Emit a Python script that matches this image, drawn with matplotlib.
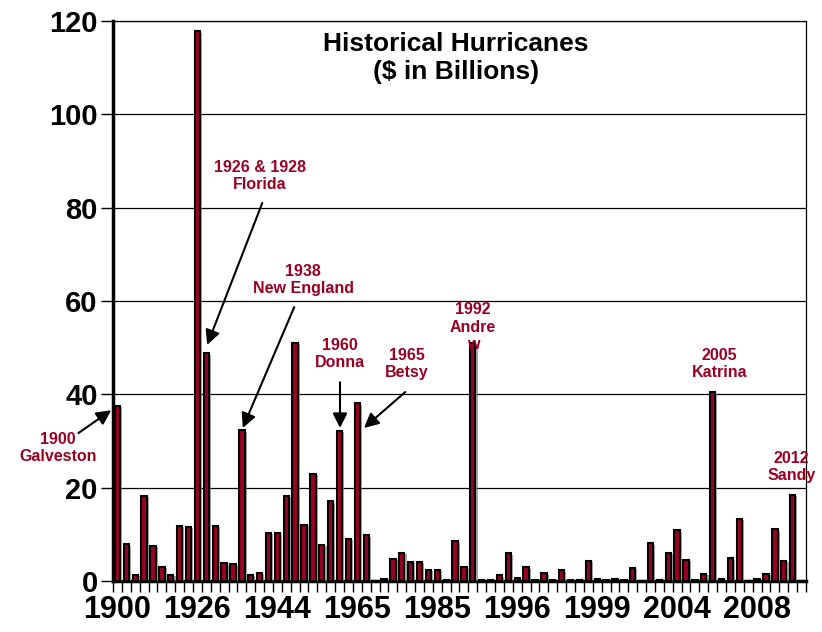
import numpy as np
from matplotlib import pyplot as plt
import matplotlib.patheffects as pe

plt.rcParams['font.family'] = ['Liberation Sans', 'DejaVu Sans']

# damage per hurricane, $ billions (one bar per storm, in order)
damage = [37.5, 7.9, 1.3, 18.3, 7.5, 3.1, 1.3, 11.8, 11.6, 117.8,
	48.8, 11.8, 3.8, 3.6, 32.3, 1.3, 1.7, 10.3, 10.3, 18.2,
	51.1, 12.0, 23.0, 7.8, 17.1, 32.2, 9.0, 38.1, 9.8, 0.0,
	0.5, 4.7, 6.1, 4.1, 4.1, 2.4, 2.4, 0.2, 8.6, 2.9,
	51.1, 0.2, 0.2, 1.2, 5.9, 0.7, 2.9, 0.2, 1.7, 0.2,
	2.3, 0.2, 0.2, 4.3, 0.4, 0.2, 0.4, 0.2, 2.8, 0.0,
	8.1, 0.2, 6.1, 10.9, 4.5, 0.2, 1.6, 40.6, 0.5, 4.9,
	13.3, 0.0, 0.4, 1.6, 11.1, 4.3, 18.5, 0.0]

tick_pos = [0, 9, 18, 27, 36, 45, 54, 63, 72]
tick_labels = ['1900', '1926', '1944', '1965', '1985', '1996', '1999', '2004', '2008']

red = '#990022'

fig = plt.figure(figsize=(8.22, 6.32), dpi=100)
ax = fig.add_axes([0.1375, 0.0807, 0.843, 0.886])

x = np.arange(len(damage))
bars = ax.bar(x, damage, width=0.6, color=red, edgecolor='black', linewidth=1.5, zorder=3)
for b in bars:
	b.set_path_effects([pe.SimplePatchShadow(offset=(1.5, -1), shadow_rgbFace='#808080', alpha=0.7), pe.Normal()])

ax.set_xlim(-0.5, len(damage) - 0.5)
ax.set_ylim(0, 120)
ax.set_yticks(np.arange(0, 121, 20))
ax.yaxis.grid(True, color='black', linewidth=0.9, zorder=0)
ax.set_axisbelow(True)

ax.set_xticks(tick_pos)
ax.set_xticklabels(tick_labels)
ax.set_xticks(np.arange(-0.5, len(damage)), minor=True)
ax.tick_params(axis='x', which='major', length=0, pad=10)
ax.tick_params(axis='x', which='minor', length=8, width=1, direction='out')
ax.tick_params(axis='y', length=9, width=1, direction='out', pad=2)
for lab in ax.get_xticklabels():
	lab.set_fontsize(22)
	lab.set_fontweight('bold')
for lab in ax.get_yticklabels():
	lab.set_fontsize(21)
	lab.set_fontweight('bold')

ax.spines['left'].set_linewidth(2.5)
ax.spines['bottom'].set_linewidth(2.5)
ax.spines['top'].set_linewidth(0.9)
ax.spines['right'].set_linewidth(0.9)

ax.text(0.495, 0.934, 'Historical Hurricanes\n($ in Billions)', transform=ax.transAxes,
	ha='center', va='center', fontsize=19, fontweight='bold', linespacing=1.2)

arrow = dict(arrowstyle='-|>', color='black', lw=1.5, mutation_scale=22, shrinkA=0, shrinkB=0)

def label(xd, yd, s):
	ax.text(xd, yd, s, ha='center', va='center', color=red, fontsize=11.5,
		fontweight='bold', linespacing=1.2, zorder=5, clip_on=False)

label(-6.7, 28.5, '1900\nGalveston')
ax.annotate('', xy=(-0.7, 36.6), xytext=(-4.4, 31.7), arrowprops=arrow, annotation_clip=False)

label(16.05, 86.8, '1926 & 1928\nFlorida')
ax.annotate('', xy=(10.1, 50.6), xytext=(16.3, 81.0), arrowprops=arrow)

label(20.9, 64.5, '1938\nNew England')
ax.annotate('', xy=(14.1, 32.8), xytext=(19.9, 58.7), arrowprops=arrow)

label(25.05, 48.6, '1960\nDonna')
ax.annotate('', xy=(25.05, 32.8), xytext=(25.05, 42.6), arrowprops=arrow)

label(32.6, 46.5, '1965\nBetsy')
ax.annotate('', xy=(27.75, 32.8), xytext=(32.4, 40.5), arrowprops=arrow)

label(40.0, 54.4, '1992\nAndre\nw')
label(67.8, 46.5, '2005\nKatrina')
label(75.9, 24.4, '2012\nSandy')

plt.savefig('out.png')
